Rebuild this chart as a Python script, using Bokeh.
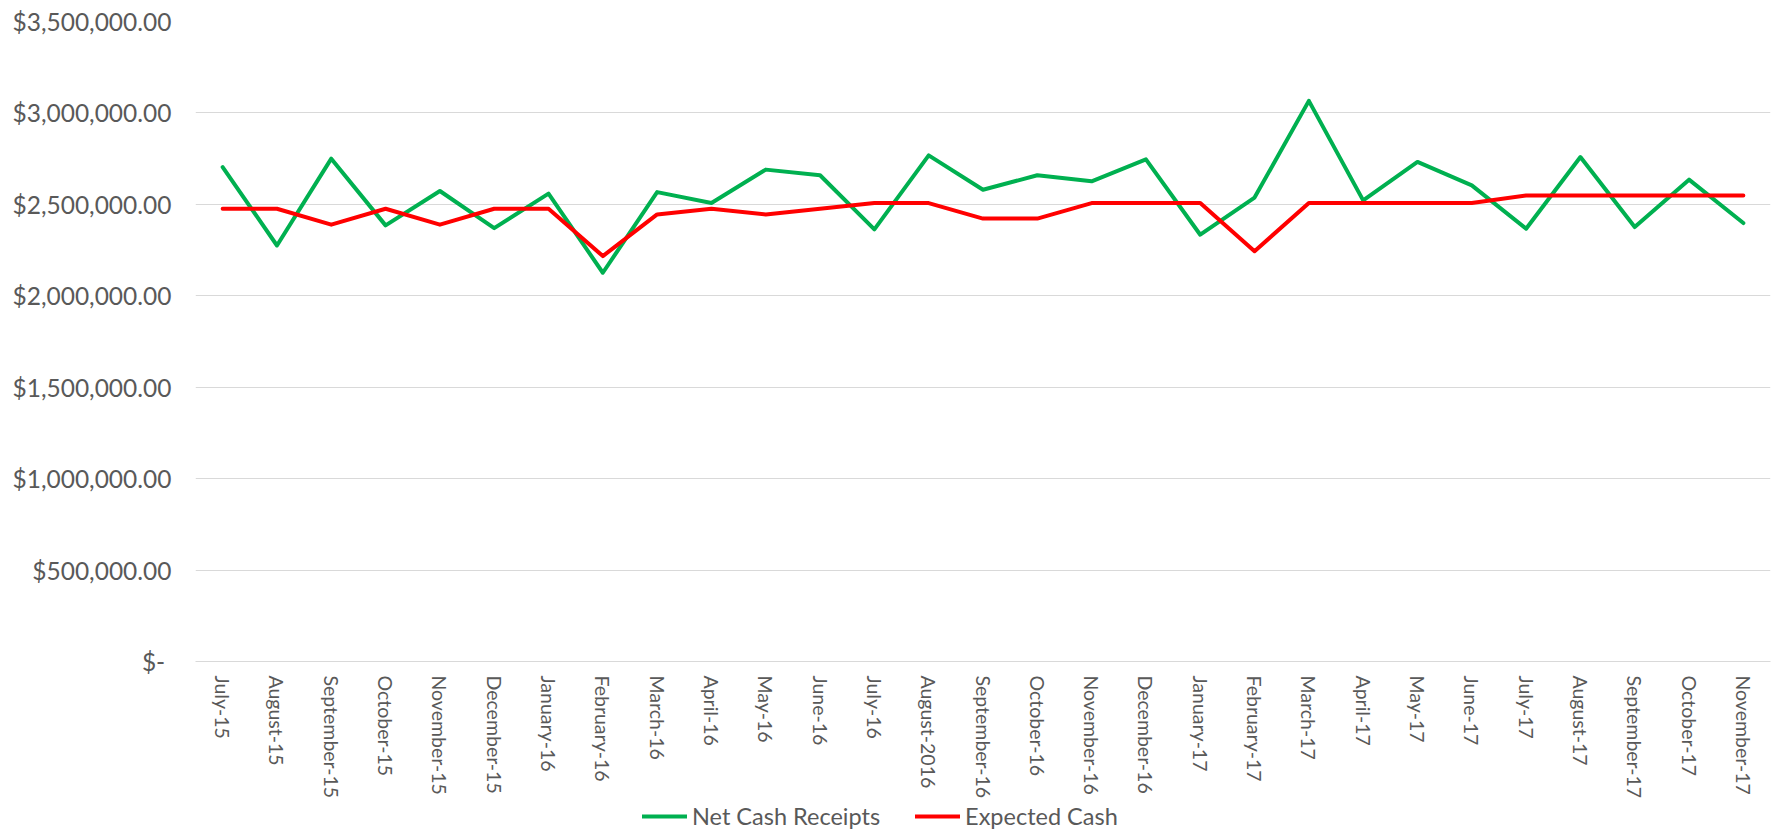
import math
from bokeh.plotting import figure
from bokeh.layouts import column
from bokeh.models import (FactorRange, Range1d, FixedTicker, CustomJSTickFormatter,
                          Legend, LegendItem, ColumnDataSource)
from bokeh.embed import file_html
from bokeh.resources import INLINE

months = ["July-15", "August-15", "September-15", "October-15", "November-15",
          "December-15", "January-16", "February-16", "March-16", "April-16",
          "May-16", "June-16", "July-16", "August-2016", "September-16",
          "October-16", "November-16", "December-16", "January-17", "February-17",
          "March-17", "April-17", "May-17", "June-17", "July-17", "August-17",
          "September-17", "October-17", "November-17"]

net_cash_receipts = [2704000, 2275000, 2750000, 2385000, 2573000, 2370000, 2559000,
                     2126000, 2567000, 2507000, 2690000, 2659000, 2363000, 2768000,
                     2580000, 2659000, 2626000, 2746000, 2334000, 2537000, 3066000,
                     2522000, 2732000, 2604000, 2367000, 2759000, 2376000, 2635000,
                     2398000]

expected_cash = [2476000, 2476000, 2389000, 2476000, 2389000, 2476000, 2476000,
                 2217000, 2445000, 2476000, 2445000, 2476000, 2507000, 2507000,
                 2422000, 2422000, 2507000, 2507000, 2507000, 2244000, 2507000,
                 2507000, 2507000, 2507000, 2549000, 2549000, 2549000, 2549000,
                 2549000]

y_ticks = [0, 500000, 1000000, 1500000, 2000000, 2500000, 3000000, 3500000]

FONT = "Lato"
TEXT_COLOR = "#595959"
GRID_COLOR = "#D9D9D9"
GREEN = "#00B050"
RED = "#FF0000"

source = ColumnDataSource(dict(month=months, net=net_cash_receipts, exp=expected_cash))

p = figure(frame_width=1575, frame_height=640, output_backend="svg", toolbar_location=None,
           x_range=FactorRange(factors=months, range_padding=0),
           y_range=Range1d(0, 3500000),
           min_border_left=195, min_border_right=11, min_border_top=21,
           min_border_bottom=138)
p.outline_line_color = None
p.background_fill_color = "white"
p.border_fill_color = "white"

p.line("month", "net", source=source, line_color=GREEN, line_width=4,
       line_join="round", line_cap="round")
p.line("month", "exp", source=source, line_color=RED, line_width=4,
       line_join="round", line_cap="round")

# grid
p.xgrid.grid_line_color = None
p.ygrid.grid_line_color = GRID_COLOR
p.ygrid.grid_line_width = 1

# y axis
p.yaxis.ticker = FixedTicker(ticks=y_ticks)
p.yaxis.formatter = CustomJSTickFormatter(code="""
    if (tick == 0) { return "$-\\u00a0"; }
    var s = Math.round(tick).toString();
    var out = "";
    while (s.length > 3) { out = "," + s.slice(-3) + out; s = s.slice(0, -3); }
    return "$" + s + out + ".00";
""")
p.yaxis.axis_line_color = None
p.yaxis.major_tick_line_color = None
p.yaxis.minor_tick_line_color = None
p.yaxis.major_tick_out = 0
p.yaxis.major_tick_in = 0
p.yaxis.major_label_standoff = 24
p.yaxis.major_label_text_font = FONT
p.yaxis.major_label_text_font_size = "24.5px"
p.yaxis.major_label_text_color = TEXT_COLOR

# x axis
p.xaxis.axis_line_color = GRID_COLOR
p.xaxis.major_tick_line_color = None
p.xaxis.minor_tick_line_color = None
p.xaxis.major_tick_out = 0
p.xaxis.major_tick_in = 0
p.xaxis.major_label_standoff = 14
p.xaxis.major_label_orientation = -math.pi / 2
p.xaxis.major_label_text_font = FONT
p.xaxis.major_label_text_font_size = "19.5px"
p.xaxis.major_label_text_color = TEXT_COLOR

# legend strip below the chart (same series; data lie outside its range)
leg = figure(width=1781, height=30, output_backend="svg", toolbar_location=None,
             x_range=FactorRange(factors=months, range_padding=0),
             y_range=Range1d(0, 1), x_axis_location=None, y_axis_location=None,
             min_border=0)
leg.outline_line_color = None
leg.grid.grid_line_color = None
l_net = leg.line("month", "net", source=source, line_color=GREEN, line_width=4,
                 line_cap="round")
l_exp = leg.line("month", "exp", source=source, line_color=RED, line_width=4,
                 line_cap="round")

legend = Legend(items=[LegendItem(label="Net Cash Receipts", renderers=[l_net]),
                       LegendItem(label="Expected Cash", renderers=[l_exp])],
                orientation="horizontal", location=(447, 1),
                label_text_font=FONT, label_text_font_size="23.5px",
                label_text_color=TEXT_COLOR, glyph_width=45, glyph_height=26,
                label_height=26, label_standoff=5, spacing=35, padding=0, margin=0,
                background_fill_alpha=0, border_line_color=None)
leg.add_layout(legend, "center")

layout = column(p, leg, spacing=0)
open("out.html", "w").write(file_html(layout, INLINE))
